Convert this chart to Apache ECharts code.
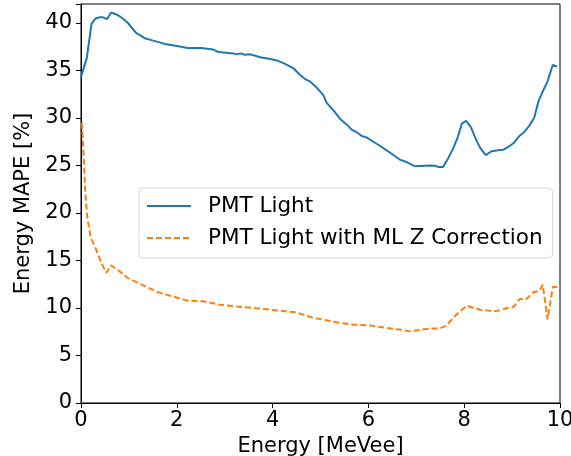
<!DOCTYPE html>
<html>
<head>
<meta charset="utf-8">
<script src="https://cdn.jsdelivr.net/npm/echarts@6/dist/echarts.min.js"></script>
<style>
  html, body { margin: 0; padding: 0; background: #fff; }
  #chart { width: 571px; height: 456px; }
</style>
</head>
<body>
<div id="chart"></div>
<script>
// Energy MAPE vs energy, PMT light only
const energyPmt = [0.00, 0.12, 0.22, 0.30, 0.39, 0.46, 0.54, 0.63, 0.74, 0.84, 0.98, 1.15, 1.33, 1.47, 1.75, 2.03, 2.23, 2.51, 2.76, 2.87, 3.18, 3.25, 3.33, 3.42, 3.54, 3.74, 3.95, 4.09, 4.26, 4.43, 4.57, 4.68, 4.78, 4.92, 5.06, 5.13, 5.27, 5.41, 5.55, 5.65, 5.76, 5.86, 5.96, 6.10, 6.24, 6.38, 6.52, 6.66, 6.78, 6.94, 7.08, 7.29, 7.39, 7.46, 7.56, 7.67, 7.77, 7.86, 7.95, 8.04, 8.14, 8.25, 8.34, 8.45, 8.57, 8.71, 8.82, 8.92, 9.04, 9.15, 9.25, 9.36, 9.46, 9.55, 9.65, 9.74, 9.85, 9.94];
const mapePmt = [34.3, 36.3, 39.9, 40.45, 40.6, 40.6, 40.4, 41.1, 40.9, 40.6, 40.0, 38.95, 38.4, 38.2, 37.8, 37.55, 37.37, 37.37, 37.2, 36.95, 36.8, 36.7, 36.8, 36.66, 36.7, 36.4, 36.2, 36.06, 35.7, 35.26, 34.56, 34.1, 33.85, 33.2, 32.4, 31.6, 30.8, 29.9, 29.3, 28.77, 28.5, 28.1, 27.96, 27.5, 27.08, 26.6, 26.1, 25.6, 25.4, 24.98, 24.95, 25.0, 24.98, 24.84, 24.84, 25.8, 26.8, 27.9, 29.4, 29.7, 29.05, 27.7, 26.8, 26.1, 26.5, 26.6, 26.66, 26.95, 27.4, 28.1, 28.5, 29.2, 30.0, 31.75, 32.9, 33.85, 35.6, 35.4];

// Energy MAPE vs energy, PMT light with ML Z correction
const energyMlz = [0.02, 0.06, 0.09, 0.13, 0.20, 0.32, 0.42, 0.53, 0.62, 0.77, 0.98, 1.33, 1.61, 1.96, 2.20, 2.55, 2.90, 3.25, 3.60, 3.95, 4.29, 4.50, 4.78, 5.06, 5.34, 5.69, 6.03, 6.17, 6.52, 6.70, 6.87, 7.08, 7.29, 7.49, 7.63, 7.77, 7.91, 8.06, 8.19, 8.33, 8.47, 8.61, 8.75, 8.89, 9.03, 9.16, 9.30, 9.44, 9.57, 9.64, 9.74, 9.85, 9.97];
const mapeMlz = [29.5, 25.6, 22.1, 19.6, 17.5, 16.1, 14.8, 13.7, 14.5, 14.0, 13.15, 12.3, 11.65, 11.15, 10.8, 10.7, 10.35, 10.17, 10.0, 9.82, 9.64, 9.54, 9.05, 8.77, 8.49, 8.24, 8.17, 8.06, 7.8, 7.7, 7.54, 7.7, 7.85, 7.85, 8.14, 8.95, 9.64, 10.24, 10.0, 9.82, 9.75, 9.64, 9.75, 10.0, 10.1, 10.95, 10.95, 11.65, 11.8, 12.45, 8.8, 12.2, 12.2];

const xTicks = [0, 2, 4, 6, 8, 10];
const yTicks = [0, 5, 10, 15, 20, 25, 30, 35, 40];

const seriesNames = ['PMT Light', 'PMT Light with ML Z Correction'];

const pairs = (xs, ys) => xs.map((x, i) => [x, ys[i]]);

const FONT = 'DejaVu Sans';
const FS = 21;
const chart = echarts.init(document.getElementById('chart'), null, { renderer: 'canvas' });

chart.setOption({
  animation: false,
  backgroundColor: '#ffffff',
  grid: {
    left: 81, right: 11, top: 4, bottom: 53,
    outerBoundsMode: 'none',
    containLabel: false,
    show: true, borderColor: '#000', borderWidth: 1, backgroundColor: 'transparent'
  },
  xAxis: {
    type: 'value',
    min: xTicks[0], max: xTicks[xTicks.length - 1], interval: 2,
    name: 'Energy [MeVee]', nameLocation: 'middle', nameGap: 24,
    nameTextStyle: { fontFamily: FONT, fontSize: FS, color: '#000' },
    axisLine: { show: true, onZero: false, lineStyle: { color: '#000', width: 1 } },
    axisTick: { show: true, inside: false, length: 5, lineStyle: { color: '#000' } },
    axisLabel: { fontFamily: FONT, fontSize: FS, color: '#000', margin: 7 },
    splitLine: { show: false }
  },
  yAxis: {
    type: 'value',
    min: yTicks[0], max: 42, interval: 5,
    name: 'Energy MAPE [%]', nameLocation: 'middle', nameGap: 40, nameRotate: 90,
    nameTextStyle: { fontFamily: FONT, fontSize: FS, color: '#000' },
    axisLine: { show: true, onZero: false, lineStyle: { color: '#000', width: 1 } },
    axisTick: { show: true, inside: false, length: 5, lineStyle: { color: '#000' } },
    axisLabel: {
      fontFamily: FONT, fontSize: FS, color: '#000', margin: 9,
      formatter: v => (yTicks.includes(v) ? String(v) : '')
    },
    splitLine: { show: false }
  },
  legend: {
    orient: 'vertical',
    left: 139, top: 188,
    padding: [7, 10, 9, 7],
    itemWidth: 44, itemHeight: 14, itemGap: 10,
    backgroundColor: '#fff',
    borderColor: '#d6d6d6', borderWidth: 1, borderRadius: 4,
    itemStyle: { opacity: 0 },
    textStyle: { fontFamily: FONT, fontSize: 21.5, color: '#000', padding: [0, 0, 0, 12] },
    data: seriesNames
  },
  series: [
    {
      name: seriesNames[0], type: 'line', showSymbol: false, symbol: 'none',
      data: pairs(energyPmt, mapePmt),
      lineStyle: { color: '#1f77b4', width: 2 },
      itemStyle: { color: '#1f77b4' }
    },
    {
      name: seriesNames[1], type: 'line', showSymbol: false, symbol: 'none',
      data: pairs(energyMlz, mapeMlz),
      lineStyle: { color: '#ff7f0e', width: 2, type: [6, 3] },
      itemStyle: { color: '#ff7f0e' }
    }
  ]
});
</script>
</body>
</html>
